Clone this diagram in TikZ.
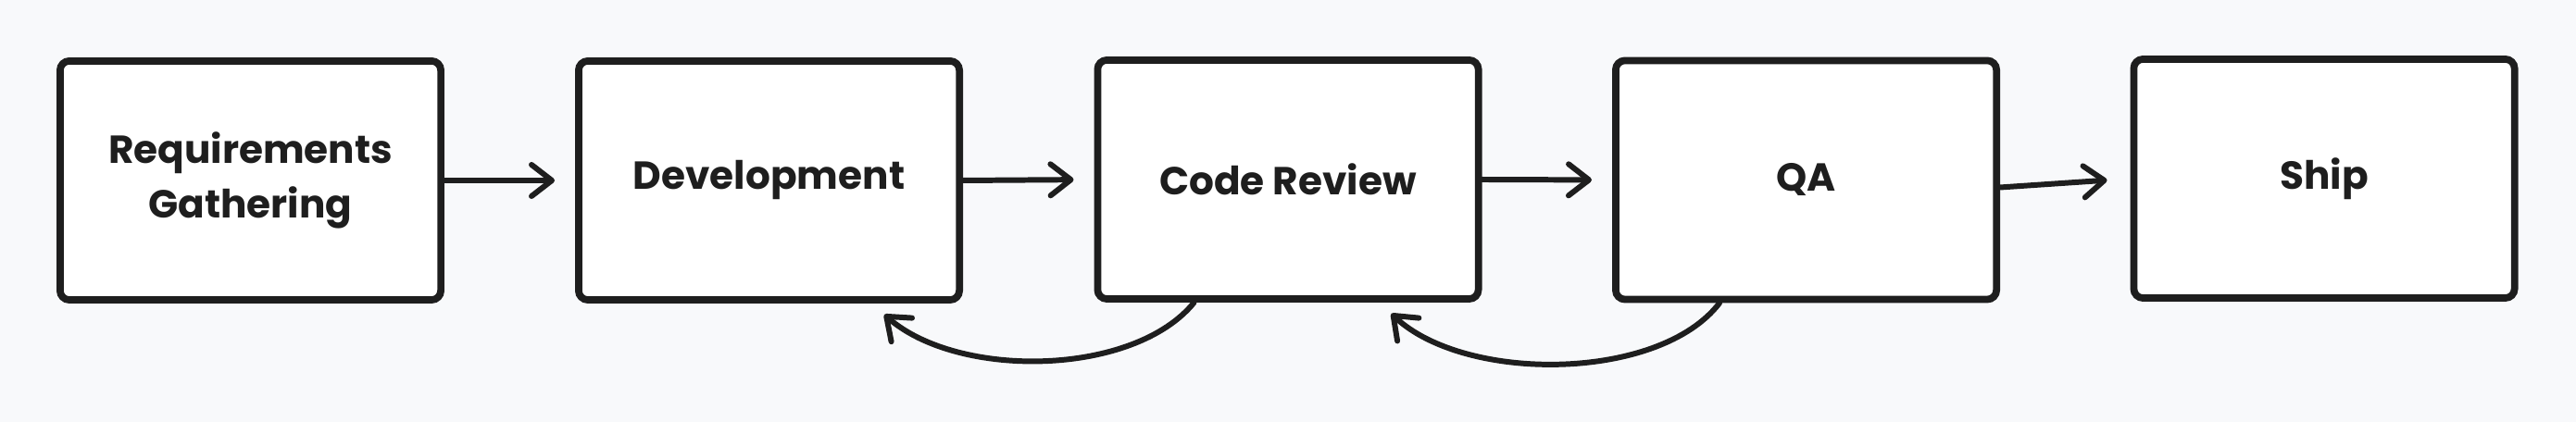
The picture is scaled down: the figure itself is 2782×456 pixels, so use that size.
\documentclass[tikz,border=0pt]{standalone}
\usepackage{fontspec}
\setmainfont{Poppins}
\usetikzlibrary{arrows.meta,calc}
\definecolor{bg}{HTML}{F8F9FB}
\definecolor{ink}{HTML}{1E1E1E}
\begin{document}
\begin{tikzpicture}[x=0.01cm,y=-0.01cm,
  stage/.style={draw=ink, line width=2.2pt, fill=white, rounded corners=0.1cm,
    minimum width=4.11cm, minimum height=2.58cm, align=center,
    font=\fontsize{12}{17}\selectfont\bfseries, text=ink},
  flow/.style={draw=ink, line width=1.7pt, line cap=round,
    -{Straight Barb[round, length=0.22cm, width=0.34cm]}}]
\useasboundingbox[fill=bg] (0,0) rectangle (2782,456);
\node[stage] (req) at (270.5,195) {Requirements\\Gathering};
\node[stage] (dev) at (830.5,195) {Development};
\node[stage] (cr)  at (1391,194) {Code Review};
\node[stage] (qa)  at (1950.5,194.5) {QA};
\node[stage] (ship) at (2510,193) {Ship};
\draw[flow, shorten >=0.22cm] (req.east) -- (dev.west);
\draw[flow, shorten >=0.22cm] (dev.east) -- (cr.west);
\draw[flow, shorten >=0.22cm] (cr.east) -- (qa.west);
\draw[flow, shorten >=0.25cm] ([yshift=-0.08cm]qa.east) -- (ship.west);
\coordinate (crback) at ($(cr.south west)+(108,0)$);
\coordinate (devin) at ($(dev.south east)+(-85,12)$);
\coordinate (qaback) at ($(qa.south west)+(116,0)$);
\coordinate (crin) at ($(cr.south east)+(-98,12)$);
\draw[flow] (crback) .. controls +(-65,80) and +(80,70) .. (devin);
\draw[flow] (qaback) .. controls +(-65,85) and +(80,75) .. (crin);
\end{tikzpicture}
\end{document}
